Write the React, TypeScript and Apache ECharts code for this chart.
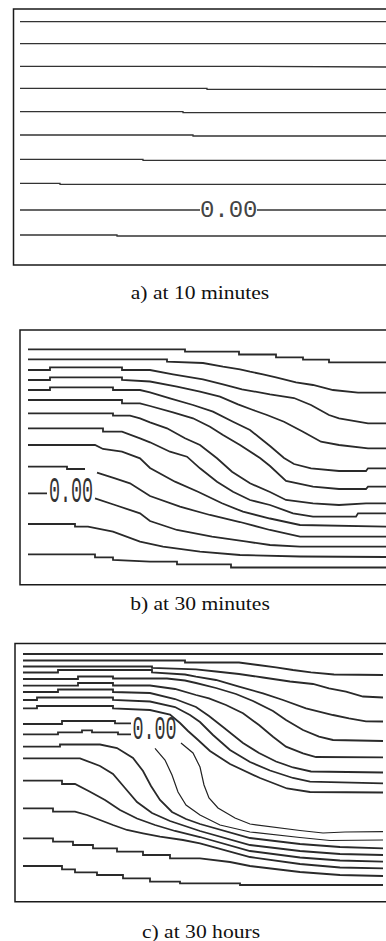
import React, { useEffect, useRef } from "react";
import * as echarts from "echarts";

// ---------- Panel a) at 10 minutes : contour lines [distance, depth] ----------
const a01 = [[20, 21.7], [390, 21.7]];
const a02 = [[20, 43.7], [390, 43.7]];
const a03 = [[20, 66.3], [213, 66.3], [213, 67], [390, 67]];
const a04 = [[20, 88.3], [207, 88.3], [207, 89.3], [390, 89.3]];
const a05 = [[20, 111.7], [183, 111.7], [183, 112.7], [390, 112.7]];
const a06 = [[20, 135], [193, 135], [193, 136], [390, 136]];
const a07 = [[20, 159.3], [143, 159.3], [143, 160.3], [390, 160.3]];
const a08 = [[20, 183.3], [60, 183.3], [60, 184.3], [390, 184.3]];
const a09a = [[20, 210], [200, 210]];
const a09b = [[257, 210], [390, 210]];
const a10 = [[20, 235], [117, 235], [117, 236], [390, 236]];

// ---------- Panel b) at 30 minutes ----------
const b01 = [[28, 349.3], [185, 349.3], [185, 351.7], [239, 351.7], [239, 354.5], [276, 354.5], [276, 357.3], [303, 357.3], [303, 359.7], [329, 359.7], [329, 362.3], [390, 362.3]];
const b02 = [[28, 359.3], [167, 359.3], [167, 361.7], [203, 363], [223, 366.7], [240, 369.3], [250, 371.7], [263, 374.3], [276, 377.3], [296, 382.3], [313, 385], [333, 390], [358, 392.7], [390, 392.7]];
const b03 = [[28, 370], [50, 370], [50, 367.3], [122, 367.3], [122, 370], [150, 370], [173, 374.3], [203, 379.3], [223, 384.3], [242, 389.3], [270, 394.3], [294, 398], [311, 405], [329, 415], [339, 418.3], [368, 423.3], [390, 423.3]];
const b04 = [[28, 380], [50, 380], [50, 377.3], [122, 377.3], [122, 380], [150, 381.5], [177, 386.7], [200, 391.7], [220, 396.7], [238, 404.3], [253, 410], [267, 415], [284, 421.7], [303, 431.7], [321, 441.7], [339, 445], [368, 448.3], [390, 448.3]];
const b05 = [[28, 390], [50, 390], [50, 387.3], [113, 387.3], [113, 390], [140, 390], [150, 392.3], [170, 398.3], [193, 405], [213, 411.7], [233, 421.7], [250, 430], [260, 438], [270, 446], [284, 458], [294, 464], [311, 468.3], [339, 471], [366, 471], [368, 468.3], [390, 468.3]];
const b06 = [[28, 400], [122, 400], [122, 403.3], [140, 403.3], [150, 406], [173, 412.3], [193, 418.3], [210, 426.7], [223, 435], [240, 445], [260, 458], [270, 466], [286, 481], [313, 486.7], [339, 489], [366, 489], [368, 486.7], [390, 486.7]];
const b07 = [[28, 413.3], [113, 413.3], [113, 415.7], [130, 415.7], [140, 418.3], [150, 422.3], [167, 428.3], [185, 438.3], [200, 445], [217, 458.3], [232, 471.7], [250, 483.3], [270, 492], [286, 500], [313, 503.3], [339, 505], [366, 503.3], [390, 503.3]];
const b08 = [[28, 428.3], [103, 428.3], [103, 431.7], [122, 431.7], [140, 438.3], [150, 442.3], [170, 451.7], [187, 456.7], [200, 468.3], [217, 481.7], [233, 491.7], [250, 500], [270, 505], [293, 513.3], [313, 516.7], [356, 516.7], [358, 513.3], [390, 513.3]];
const b09 = [[28, 445], [95, 445], [103, 449], [122, 451.7], [140, 458.3], [150, 468], [175, 481.7], [198, 491.7], [222, 503.3], [243, 511.7], [270, 518.5], [300, 525], [390, 526.7]];
const b10a = [[28, 466.7], [67, 466.7], [67, 469], [85, 469]];
const b10b = [[97, 472.7], [115, 478.3], [130, 483.3], [150, 496], [180, 506.7], [210, 515], [240, 522], [270, 530], [300, 536.7], [390, 536.7]];
const b11a = [[28, 493.3], [47, 493.3]];
const b11b = [[95, 498.3], [115, 505], [140, 513.3], [150, 521], [177, 530], [212, 536.7], [247, 541.7], [270, 545], [300, 546.7], [390, 546.7]];
const b12 = [[28, 524], [75, 524], [75, 526.7], [88, 526.7], [113, 531.7], [140, 541.7], [163, 546.7], [200, 551.7], [240, 555], [300, 556.5], [390, 557]];
const b13 = [[28, 554.3], [95, 554.3], [95, 557.3], [113, 557.3], [113, 560], [150, 561.7], [177, 561.7], [177, 564.3], [231, 564.3], [231, 567.5], [390, 567.5]];

// ---------- Panel c) at 30 hours ----------
const c01 = [[23, 654], [383, 654]];
const c02 = [[23, 660.5], [185, 660.5], [185, 662.5], [239, 662.5], [258, 665], [276, 667.3], [293, 670], [311, 672.3], [334, 674.5], [383, 675]];
const c03 = [[23, 666.5], [152, 666.5], [152, 668], [196, 669.3], [216, 671.5], [239, 674], [263, 677.5], [290, 681.5], [313, 684], [329, 688.3], [346, 691.7], [363, 696.5], [383, 697.5]];
const c04 = [[23, 672.5], [58, 672.5], [58, 670], [152, 670], [152, 672.5], [185, 674.5], [196, 676.7], [216, 680], [239, 686.7], [263, 693.3], [283, 700], [306, 708.3], [333, 715], [349, 718.3], [366, 721.3], [383, 721.5]];
const c05 = [[23, 679], [78, 679], [78, 676.5], [113, 676.5], [113, 678.5], [167, 678.5], [185, 680.5], [196, 683], [216, 688], [236, 694], [253, 701], [273, 711], [286, 720], [303, 730], [319, 736.7], [333, 740], [383, 741]];
const c06 = [[23, 685.7], [78, 685.7], [78, 683], [113, 683], [113, 685.5], [150, 685.5], [175, 689], [196, 695], [209, 698.3], [226, 705], [243, 713.3], [259, 725], [273, 736.7], [286, 746.7], [303, 753.3], [316, 757], [383, 757.3]];
const c07 = [[23, 692], [58, 692], [58, 689.5], [113, 689.5], [113, 692], [150, 693], [175, 699], [196, 707], [209, 716], [223, 727], [243, 743], [259, 753], [276, 761.5], [293, 767.5], [311, 771.5], [383, 772.5]];
const c08 = [[23, 700], [37, 700], [37, 697.5], [113, 697.5], [113, 700], [150, 701.5], [175, 707], [190, 715], [200, 722], [213, 735], [230, 750], [250, 762], [270, 770.5], [293, 778], [310, 781.7], [383, 783.3]];
const c09 = [[23, 708.3], [37, 708.3], [37, 706], [113, 706], [113, 708.3], [150, 710], [170, 714.5], [180, 723], [188, 731], [197, 739], [210, 751], [230, 764], [260, 778], [287, 788.5], [310, 792], [383, 792.5]];
const c10 = [[23, 724], [62, 724], [62, 721], [115, 721], [115, 723.3], [131, 723.3]];
const c11 = [[23, 734.3], [58, 734.3], [58, 732.3], [82, 732.3], [82, 730.3], [92, 730.3], [92, 732.3], [118, 732.3], [118, 734.3], [131, 734.3]];
const cB = [[181, 743], [193, 753], [200, 767], [204, 785], [209, 798], [218, 808], [235, 818], [250, 824], [300, 830.5], [323, 833], [345, 832], [383, 831.7]];
const cA = [[155, 748.3], [165, 760], [172, 775], [178, 792], [186, 805], [200, 815], [220, 825], [250, 832], [300, 837.5], [330, 840.5], [383, 840]];
const c12 = [[23, 746.7], [60, 746.7], [60, 744.5], [100, 744.5], [117, 748], [133, 758], [143, 771], [151, 786], [160, 800], [172, 812], [186, 819], [200, 824], [250, 838], [300, 844], [340, 847], [383, 848.3]];
const c13 = [[23, 758.3], [80, 758.3], [100, 766], [113, 774], [125, 788], [137, 802], [152, 813], [170, 821], [200, 831], [250, 845], [300, 851], [340, 854], [383, 855]];
const c14 = [[23, 780.7], [62, 780.7], [62, 784], [75, 784], [90, 791.7], [105, 800], [120, 810], [137, 818.5], [155, 825], [175, 831], [200, 837], [250, 851], [300, 857.5], [340, 860.5], [383, 861.7]];
const c15 = [[23, 808.3], [53, 808.3], [53, 811.7], [75, 811.7], [87, 815], [100, 820], [113, 825], [127, 830], [143, 833.3], [160, 836.7], [183, 840], [200, 843.3], [250, 857], [300, 864], [340, 867.5], [383, 868.3]];
const c16 = [[23, 838.3], [53, 838.3], [53, 841.7], [73, 841.7], [73, 845], [93, 845], [93, 848.3], [117, 848.3], [117, 851.7], [143, 851.7], [143, 855], [170, 855], [170, 858.3], [200, 858.3], [230, 862], [250, 866], [300, 872], [340, 875], [383, 876]];
const c17 = [[23, 866], [62, 866], [62, 869.3], [75, 869.3], [75, 872.3], [97, 872.3], [97, 875], [123, 875], [123, 878.3], [150, 878.3], [150, 881.7], [180, 881.7], [180, 883.3], [240, 883.3], [240, 885], [383, 885]];

const panelALines = [a01, a02, a03, a04, a05, a06, a07, a08, a09a, a09b, a10];
const panelBLines = [b01, b02, b03, b04, b05, b06, b07, b08, b09, b10a, b10b, b11a, b11b, b12, b13];
const panelCLines = [c01, c02, c03, c04, c05, c06, c07, c08, c09, c10, c11, c12, c13, c14, c15, c16, c17];
const panelCThin = [cA, cB];

const captions = ["a) at 10 minutes", "b) at 30 minutes", "c) at 30 hours"];
const contourLabels = ["0.00", "0.00", "0.00"];

const grids = [
  { left: 13.5, top: 9, width: 380, height: 256 },
  { left: 20, top: 330, width: 374, height: 254.7 },
  { left: 15, top: 643.5, width: 379, height: 258.2 },
];

function lineSeries(gi: number, data: number[][], width: number, color: string) {
  return {
    type: "line",
    xAxisIndex: gi,
    yAxisIndex: gi,
    data,
    symbol: "none",
    showSymbol: false,
    silent: true,
    clip: true,
    lineStyle: { width, color, cap: "butt", join: "miter" },
    z: 2,
  };
}

function txt(x: number, y: number, text: string, font: string, extra: any = {}, styleExtra: any = {}) {
  return {
    type: "text",
    x,
    y,
    z: 100,
    silent: true,
    ...extra,
    style: {
      x: 0,
      y: 0,
      text,
      font,
      fill: "#222",
      textAlign: "center",
      align: "center",
      textVerticalAlign: "middle",
      verticalAlign: "middle",
      ...styleExtra,
    },
  };
}

export default function App() {
  const ref = useRef<HTMLDivElement>(null);
  useEffect(() => {
    if (!ref.current) return;
    const chart = echarts.init(ref.current, null, { renderer: "svg" });
    const series: any[] = [];
    panelALines.forEach((d) => series.push(lineSeries(0, d, 1.3, "#333")));
    panelBLines.forEach((d) => series.push(lineSeries(1, d, 1.8, "#2a2a2a")));
    panelCLines.forEach((d) => series.push(lineSeries(2, d, 1.8, "#2a2a2a")));
    panelCThin.forEach((d) => series.push(lineSeries(2, d, 1.2, "#222")));

    const option: any = {
      animation: false,
      backgroundColor: "#fff",
      grid: grids.map((g) => ({
        ...g,
        show: true,
        borderColor: "#1a1a1a",
        borderWidth: 1.5,
        backgroundColor: "transparent",
        containLabel: false,
        outerBoundsMode: "none",
      })),
      xAxis: grids.map((g, i) => ({
        gridIndex: i,
        type: "value",
        min: g.left,
        max: g.left + g.width,
        show: false,
      })),
      yAxis: grids.map((g, i) => ({
        gridIndex: i,
        type: "value",
        min: g.top,
        max: g.top + g.height,
        inverse: true,
        show: false,
      })),
      series,
      graphic: [
        txt(228.7, 210.5, contourLabels[0], '24px "Liberation Mono"', {}, { fill: "#444" }),
        txt(71, 492.5, contourLabels[1], '19px "Liberation Mono"', { scaleY: 1.9, scaleX: 0.97 }, { fill: "#333" }),
        txt(154.5, 730.5, contourLabels[2], '19px "Liberation Mono"', { scaleY: 1.7, scaleX: 0.97 }, { fill: "#333" }),
        txt(200, 293, captions[0], '18px "Liberation Serif"', { scaleX: 1.2 }, { fill: "#111" }),
        txt(200, 604, captions[1], '18px "Liberation Serif"', { scaleX: 1.2 }, { fill: "#111" }),
        txt(201, 931.5, captions[2], '18px "Liberation Serif"', { scaleX: 1.2 }, { fill: "#111" }),
      ],
    };
    chart.setOption(option);
    return () => chart.dispose();
  }, []);
  return (
    <div
      ref={ref}
      style={{ position: "fixed", left: 0, top: 0, width: 386, height: 941, background: "#fff" }}
    />
  );
}
